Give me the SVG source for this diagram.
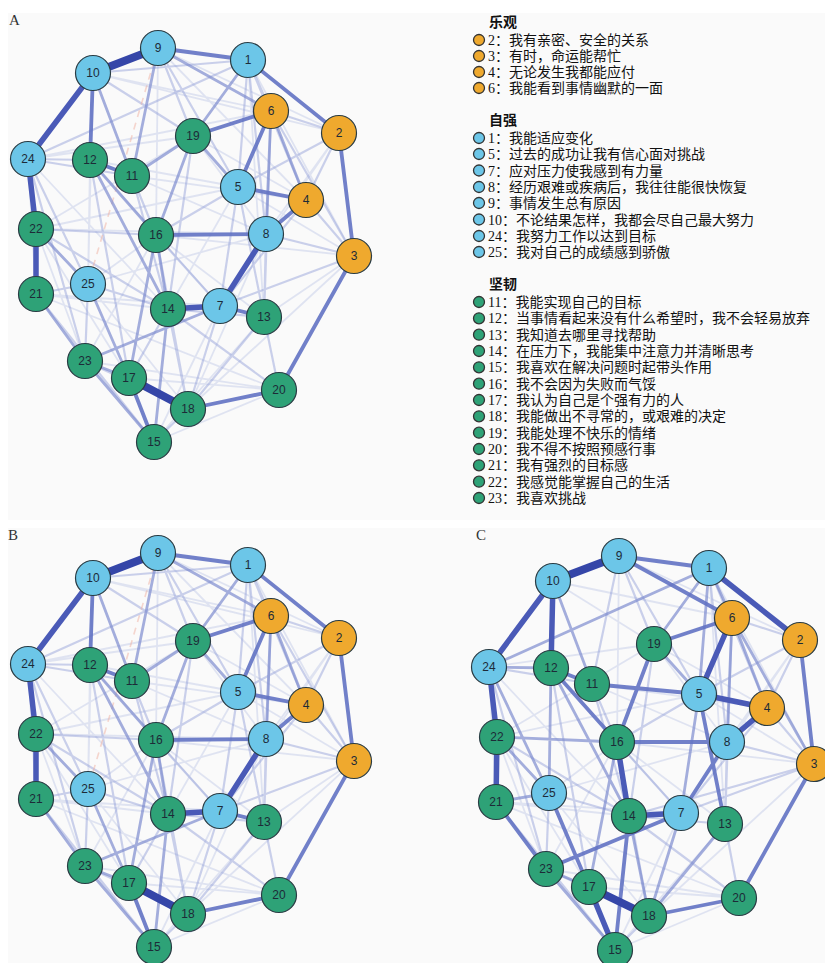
<svg xmlns="http://www.w3.org/2000/svg" xmlns:xlink="http://www.w3.org/1999/xlink" width="825" height="963" viewBox="0 0 825 963">
<style>
.bg{fill:#fafafa}
.pl{font-family:"Liberation Serif",serif;font-size:15px;fill:#333}
.w1{stroke:#3546a8;stroke-width:8;fill:none}
.w2{stroke:#4a5ab7;stroke-width:5.5;fill:none}
.w3{stroke:#6272c3;stroke-width:3.8;fill:none;stroke-opacity:.9}
.w4{stroke:#7d8bcf;stroke-width:2.8;fill:none;stroke-opacity:.7}
.w5{stroke:#8f9cd6;stroke-width:2.2;fill:none;stroke-opacity:.45}
.w6{stroke:#a3aedd;stroke-width:1.8;fill:none;stroke-opacity:.3}
.neg{stroke:#f0b0a0;stroke-width:1.6;fill:none;stroke-dasharray:7 6;stroke-opacity:.5}
.n circle{r:17.5;stroke:#2a3c44;stroke-width:1.2}
.n text{font-family:"Liberation Sans",Arial,sans-serif;font-size:12px;fill:#1d2b38;text-anchor:middle}
.b circle{fill:#6cc6e8}
.o circle{fill:#efa92e}
.g circle{fill:#2ea277}
.lg{font-family:"Liberation Serif","Noto Sans CJK SC",serif;font-size:14px;fill:#111}
.lh{font-family:"Noto Sans CJK SC",sans-serif;font-size:14px;font-weight:bold;fill:#111}
.ld{stroke:#333;stroke-width:1.3}
</style>
<defs>
<g id="netAB">
<path class="w6" d="M28 159L193 136M28 159L271 111M93 73L271 111M93 73L339 133M158 48L339 133M158 48L156 235M36 229L193 136M36 229L238 187M36 229L266 234M36 294L168 309M36 294L220 306M88 284L156 235M88 284L266 234M85 361L156 235M85 361L279 390M129 378L279 390M154 442L279 390M154 442L264 317M188 409L354 256M188 409L266 234M132 176L266 234M132 176L306 200M90 160L238 187M90 160L220 306M193 136L266 234M193 136L306 200M238 187L168 309M339 133L266 234M339 133L220 306M354 256L238 187M154 442L220 306M88 284L188 409M36 229L129 378M28 159L168 309M36 294L279 390M156 235L264 317M354 256L264 317M354 256L156 235M28 159L36 294M36 229L85 361M93 73L88 284M90 160L88 284M158 48L306 200M248 60L264 317M248 60L354 256"/>
<path class="w5" d="M28 159L248 60M93 73L248 60M158 48L193 136M158 48L238 187M248 60L238 187M248 60L266 234M248 60L306 200M248 60L271 111M271 111L339 133M271 111L354 256M339 133L306 200M339 133L238 187M306 200L354 256M354 256L220 306M264 317L279 390M264 317L188 409M266 234L264 317M238 187L220 306M238 187L264 317M36 294L154 442M88 284L85 361M154 442L188 409M168 309L188 409M28 159L90 160M28 159L132 176M28 159L88 284M28 159L85 361M36 229L156 235M36 229L168 309M36 294L88 284M132 176L156 235M132 176L168 309M90 160L129 378M93 73L193 136M193 136L168 309M156 235L220 306M156 235L238 187M168 309L264 317M220 306L188 409M129 378L168 309M88 284L168 309M85 361L188 409M279 390L168 309M354 256L266 234M306 200L220 306M271 111L264 317M156 235L188 409"/>
<path class="neg" d="M158 48L88 284"/>
<path class="w4" d="M93 73L132 176M158 48L132 176M158 48L271 111M248 60L193 136M193 136L238 187M193 136L156 235M156 235L168 309M90 160L156 235M168 309L154 442M85 361L129 378M36 294L85 361M88 284L129 378M36 229L88 284M156 235L129 378M85 361L220 306M271 111L306 200M271 111L266 234M85 361L154 442M132 176L193 136M90 160L168 309"/>
<path class="w3" d="M93 73L90 160M158 48L248 60M248 60L339 133M339 133L354 256M354 256L279 390M279 390L188 409M266 234L306 200M271 111L238 187M271 111L193 136M90 160L132 176M129 378L154 442M156 235L266 234M238 187L306 200M220 306L264 317"/>
<path class="w2" d="M93 73L28 159M28 159L36 229M36 229L36 294M220 306L266 234M168 309L220 306"/>
<path class="w1" d="M158 48L93 73M129 378L188 409"/>
</g>
</defs>
<rect class="bg" x="8" y="13" width="817" height="507"/>
<rect class="bg" x="8" y="528" width="817" height="435"/>
<text class="pl" x="9" y="25">A</text>
<text class="pl" x="8" y="540">B</text>
<text class="pl" x="476" y="540">C</text>
<g id="connectors-A"><use href="#netAB" xlink:href="#netAB"/></g>
<g id="connectors-B"><use href="#netAB" xlink:href="#netAB" transform="translate(0,505)"/></g>
<g id="connectors-C">
<path class="w6" d="M553 581L732 618M619 556L617 742M619 556L800 640M497 737L699 694M496 802L629 816M496 802L681 813M549 793L727 742M546 869L739 898M589 887L739 898M615 950L739 898M615 950L725 824M649 916L814 764M592 684L727 742M592 684L767 708M551 668L681 813M654 644L727 742M654 644L767 708M800 640L727 742M800 640L681 813M814 764L699 694M615 950L681 813M549 793L649 916M497 737L589 887M489 667L629 816M496 802L739 898M617 742L725 824M814 764L617 742M497 737L546 869M489 667L496 802M709 568L725 824M709 568L814 764M489 667L654 644M497 737L654 644M553 581L654 644M549 793L617 742M546 869L617 742"/>
<path class="w5" d="M619 556L654 644M619 556L699 694M619 556L592 684M709 568L727 742M709 568L767 708M732 618L800 640M800 640L767 708M800 640L699 694M767 708L814 764M814 764L681 813M814 764L629 816M725 824L739 898M727 742L725 824M496 802L615 950M549 793L546 869M615 950L649 916M489 667L592 684M489 667L546 869M497 737L629 816M592 684L617 742M592 684L629 816M551 668L589 887M654 644L629 816M617 742L681 813M617 742L699 694M629 816L725 824M549 793L629 816M546 869L649 916M739 898L629 816M814 764L727 742M767 708L681 813M732 618L725 824M617 742L649 916"/>
<path class="w4" d="M709 568L654 644M553 581L592 684M489 667L551 668M489 667L709 568M496 802L549 793M497 737L549 793M546 869L589 887M546 869L615 950M497 737L617 742M551 668L549 793M732 618L727 742M732 618L767 708M732 618L814 764M709 568L699 694M654 644L699 694M725 824L649 916M681 813L649 916M489 667L549 793M551 668L629 816M617 742L589 887M699 694L681 813M629 816L649 916M709 568L732 618"/>
<path class="w3" d="M619 556L709 568M619 556L732 618M800 640L814 764M814 764L739 898M739 898L649 916M727 742L681 813M629 816L615 950M699 694L725 824M592 684L699 694M617 742L727 742M654 644L617 742M732 618L654 644M551 668L592 684M551 668L617 742M546 869L681 813M496 802L546 869M549 793L589 887"/>
<path class="w2" d="M553 581L489 667M489 667L497 737M497 737L496 802M553 581L551 668M709 568L800 640M732 618L699 694M699 694L767 708M767 708L727 742M681 813L629 816M617 742L629 816M589 887L615 950"/>
<path class="w1" d="M619 556L553 581M589 887L649 916"/>
</g>
<g id="nodes-A">
<g id="a1" class="n b"><circle cx="248" cy="60"/><text x="248" y="64">1</text></g>
<g id="a2" class="n o"><circle cx="339" cy="133"/><text x="339" y="137">2</text></g>
<g id="a3" class="n o"><circle cx="354" cy="256"/><text x="354" y="260">3</text></g>
<g id="a4" class="n o"><circle cx="306" cy="200"/><text x="306" y="204">4</text></g>
<g id="a5" class="n b"><circle cx="238" cy="187"/><text x="238" y="191">5</text></g>
<g id="a6" class="n o"><circle cx="271" cy="111"/><text x="271" y="115">6</text></g>
<g id="a7" class="n b"><circle cx="220" cy="306"/><text x="220" y="310">7</text></g>
<g id="a8" class="n b"><circle cx="266" cy="234"/><text x="266" y="238">8</text></g>
<g id="a9" class="n b"><circle cx="158" cy="48"/><text x="158" y="52">9</text></g>
<g id="a10" class="n b"><circle cx="93" cy="73"/><text x="93" y="77">10</text></g>
<g id="a11" class="n g"><circle cx="132" cy="176"/><text x="132" y="180">11</text></g>
<g id="a12" class="n g"><circle cx="90" cy="160"/><text x="90" y="164">12</text></g>
<g id="a13" class="n g"><circle cx="264" cy="317"/><text x="264" y="321">13</text></g>
<g id="a14" class="n g"><circle cx="168" cy="309"/><text x="168" y="313">14</text></g>
<g id="a15" class="n g"><circle cx="154" cy="442"/><text x="154" y="446">15</text></g>
<g id="a16" class="n g"><circle cx="156" cy="235"/><text x="156" y="239">16</text></g>
<g id="a17" class="n g"><circle cx="129" cy="378"/><text x="129" y="382">17</text></g>
<g id="a18" class="n g"><circle cx="188" cy="409"/><text x="188" y="413">18</text></g>
<g id="a19" class="n g"><circle cx="193" cy="136"/><text x="193" y="140">19</text></g>
<g id="a20" class="n g"><circle cx="279" cy="390"/><text x="279" y="394">20</text></g>
<g id="a21" class="n g"><circle cx="36" cy="294"/><text x="36" y="298">21</text></g>
<g id="a22" class="n g"><circle cx="36" cy="229"/><text x="36" y="233">22</text></g>
<g id="a23" class="n g"><circle cx="85" cy="361"/><text x="85" y="365">23</text></g>
<g id="a24" class="n b"><circle cx="28" cy="159"/><text x="28" y="163">24</text></g>
<g id="a25" class="n b"><circle cx="88" cy="284"/><text x="88" y="288">25</text></g>
</g>
<g id="nodes-B" transform="translate(0,505)">
<g id="b1" class="n b"><circle cx="248" cy="60"/><text x="248" y="64">1</text></g>
<g id="b2" class="n o"><circle cx="339" cy="133"/><text x="339" y="137">2</text></g>
<g id="b3" class="n o"><circle cx="354" cy="256"/><text x="354" y="260">3</text></g>
<g id="b4" class="n o"><circle cx="306" cy="200"/><text x="306" y="204">4</text></g>
<g id="b5" class="n b"><circle cx="238" cy="187"/><text x="238" y="191">5</text></g>
<g id="b6" class="n o"><circle cx="271" cy="111"/><text x="271" y="115">6</text></g>
<g id="b7" class="n b"><circle cx="220" cy="306"/><text x="220" y="310">7</text></g>
<g id="b8" class="n b"><circle cx="266" cy="234"/><text x="266" y="238">8</text></g>
<g id="b9" class="n b"><circle cx="158" cy="48"/><text x="158" y="52">9</text></g>
<g id="b10" class="n b"><circle cx="93" cy="73"/><text x="93" y="77">10</text></g>
<g id="b11" class="n g"><circle cx="132" cy="176"/><text x="132" y="180">11</text></g>
<g id="b12" class="n g"><circle cx="90" cy="160"/><text x="90" y="164">12</text></g>
<g id="b13" class="n g"><circle cx="264" cy="317"/><text x="264" y="321">13</text></g>
<g id="b14" class="n g"><circle cx="168" cy="309"/><text x="168" y="313">14</text></g>
<g id="b15" class="n g"><circle cx="154" cy="442"/><text x="154" y="446">15</text></g>
<g id="b16" class="n g"><circle cx="156" cy="235"/><text x="156" y="239">16</text></g>
<g id="b17" class="n g"><circle cx="129" cy="378"/><text x="129" y="382">17</text></g>
<g id="b18" class="n g"><circle cx="188" cy="409"/><text x="188" y="413">18</text></g>
<g id="b19" class="n g"><circle cx="193" cy="136"/><text x="193" y="140">19</text></g>
<g id="b20" class="n g"><circle cx="279" cy="390"/><text x="279" y="394">20</text></g>
<g id="b21" class="n g"><circle cx="36" cy="294"/><text x="36" y="298">21</text></g>
<g id="b22" class="n g"><circle cx="36" cy="229"/><text x="36" y="233">22</text></g>
<g id="b23" class="n g"><circle cx="85" cy="361"/><text x="85" y="365">23</text></g>
<g id="b24" class="n b"><circle cx="28" cy="159"/><text x="28" y="163">24</text></g>
<g id="b25" class="n b"><circle cx="88" cy="284"/><text x="88" y="288">25</text></g>
</g>
<g id="nodes-C">
<g id="c1" class="n b"><circle cx="709" cy="568"/><text x="709" y="572">1</text></g>
<g id="c2" class="n o"><circle cx="800" cy="640"/><text x="800" y="644">2</text></g>
<g id="c3" class="n o"><circle cx="814" cy="764"/><text x="814" y="768">3</text></g>
<g id="c4" class="n o"><circle cx="767" cy="708"/><text x="767" y="712">4</text></g>
<g id="c5" class="n b"><circle cx="699" cy="694"/><text x="699" y="698">5</text></g>
<g id="c6" class="n o"><circle cx="732" cy="618"/><text x="732" y="622">6</text></g>
<g id="c7" class="n b"><circle cx="681" cy="813"/><text x="681" y="817">7</text></g>
<g id="c8" class="n b"><circle cx="727" cy="742"/><text x="727" y="746">8</text></g>
<g id="c9" class="n b"><circle cx="619" cy="556"/><text x="619" y="560">9</text></g>
<g id="c10" class="n b"><circle cx="553" cy="581"/><text x="553" y="585">10</text></g>
<g id="c11" class="n g"><circle cx="592" cy="684"/><text x="592" y="688">11</text></g>
<g id="c12" class="n g"><circle cx="551" cy="668"/><text x="551" y="672">12</text></g>
<g id="c13" class="n g"><circle cx="725" cy="824"/><text x="725" y="828">13</text></g>
<g id="c14" class="n g"><circle cx="629" cy="816"/><text x="629" y="820">14</text></g>
<g id="c15" class="n g"><circle cx="615" cy="950"/><text x="615" y="954">15</text></g>
<g id="c16" class="n g"><circle cx="617" cy="742"/><text x="617" y="746">16</text></g>
<g id="c17" class="n g"><circle cx="589" cy="887"/><text x="589" y="891">17</text></g>
<g id="c18" class="n g"><circle cx="649" cy="916"/><text x="649" y="920">18</text></g>
<g id="c19" class="n g"><circle cx="654" cy="644"/><text x="654" y="648">19</text></g>
<g id="c20" class="n g"><circle cx="739" cy="898"/><text x="739" y="902">20</text></g>
<g id="c21" class="n g"><circle cx="496" cy="802"/><text x="496" y="806">21</text></g>
<g id="c22" class="n g"><circle cx="497" cy="737"/><text x="497" y="741">22</text></g>
<g id="c23" class="n g"><circle cx="546" cy="869"/><text x="546" y="873">23</text></g>
<g id="c24" class="n b"><circle cx="489" cy="667"/><text x="489" y="671">24</text></g>
<g id="c25" class="n b"><circle cx="549" cy="793"/><text x="549" y="797">25</text></g>
</g>
<g id="legend">
<text class="lh" x="489" y="27">乐观</text>
<g class="ld" fill="#efa92e">
<circle cx="479" cy="40" r="5.5"/><circle cx="479" cy="56" r="5.5"/><circle cx="479" cy="72" r="5.5"/><circle cx="479" cy="88" r="5.5"/>
</g>
<text class="lg" x="488" y="45">2：我有亲密、安全的关系</text>
<text class="lg" x="488" y="61">3：有时，命运能帮忙</text>
<text class="lg" x="488" y="77">4：无论发生我都能应付</text>
<text class="lg" x="488" y="93">6：我能看到事情幽默的一面</text>
<text class="lh" x="489" y="125">自强</text>
<g class="ld" fill="#6cc6e8">
<circle cx="479" cy="138" r="5.5"/><circle cx="479" cy="154" r="5.5"/><circle cx="479" cy="170.5" r="5.5"/><circle cx="479" cy="187" r="5.5"/><circle cx="479" cy="203" r="5.5"/><circle cx="479" cy="219.5" r="5.5"/><circle cx="479" cy="236" r="5.5"/><circle cx="479" cy="252" r="5.5"/>
</g>
<text class="lg" x="488" y="143">1：我能适应变化</text>
<text class="lg" x="488" y="159">5：过去的成功让我有信心面对挑战</text>
<text class="lg" x="488" y="175.5">7：应对压力使我感到有力量</text>
<text class="lg" x="488" y="192">8：经历艰难或疾病后，我往往能很快恢复</text>
<text class="lg" x="488" y="208">9：事情发生总有原因</text>
<text class="lg" x="488" y="224.5">10：不论结果怎样，我都会尽自己最大努力</text>
<text class="lg" x="488" y="241">24：我努力工作以达到目标</text>
<text class="lg" x="488" y="257">25：我对自己的成绩感到骄傲</text>
<text class="lh" x="489" y="289">坚韧</text>
<g class="ld" fill="#2ea277">
<circle cx="479" cy="302" r="5.5"/><circle cx="479" cy="318.3" r="5.5"/><circle cx="479" cy="334.7" r="5.5"/><circle cx="479" cy="351" r="5.5"/><circle cx="479" cy="367.3" r="5.5"/><circle cx="479" cy="383.7" r="5.5"/><circle cx="479" cy="400" r="5.5"/><circle cx="479" cy="416.3" r="5.5"/><circle cx="479" cy="432.7" r="5.5"/><circle cx="479" cy="449" r="5.5"/><circle cx="479" cy="465.3" r="5.5"/><circle cx="479" cy="481.7" r="5.5"/><circle cx="479" cy="498" r="5.5"/>
</g>
<text class="lg" x="488" y="307">11：我能实现自己的目标</text>
<text class="lg" x="488" y="323.3">12：当事情看起来没有什么希望时，我不会轻易放弃</text>
<text class="lg" x="488" y="339.7">13：我知道去哪里寻找帮助</text>
<text class="lg" x="488" y="356">14：在压力下，我能集中注意力并清晰思考</text>
<text class="lg" x="488" y="372.3">15：我喜欢在解决问题时起带头作用</text>
<text class="lg" x="488" y="388.7">16：我不会因为失败而气馁</text>
<text class="lg" x="488" y="405">17：我认为自己是个强有力的人</text>
<text class="lg" x="488" y="421.3">18：我能做出不寻常的，或艰难的决定</text>
<text class="lg" x="488" y="437.7">19：我能处理不快乐的情绪</text>
<text class="lg" x="488" y="454">20：我不得不按照预感行事</text>
<text class="lg" x="488" y="470.3">21：我有强烈的目标感</text>
<text class="lg" x="488" y="486.7">22：我感觉能掌握自己的生活</text>
<text class="lg" x="488" y="503">23：我喜欢挑战</text>
</g>
</svg>
